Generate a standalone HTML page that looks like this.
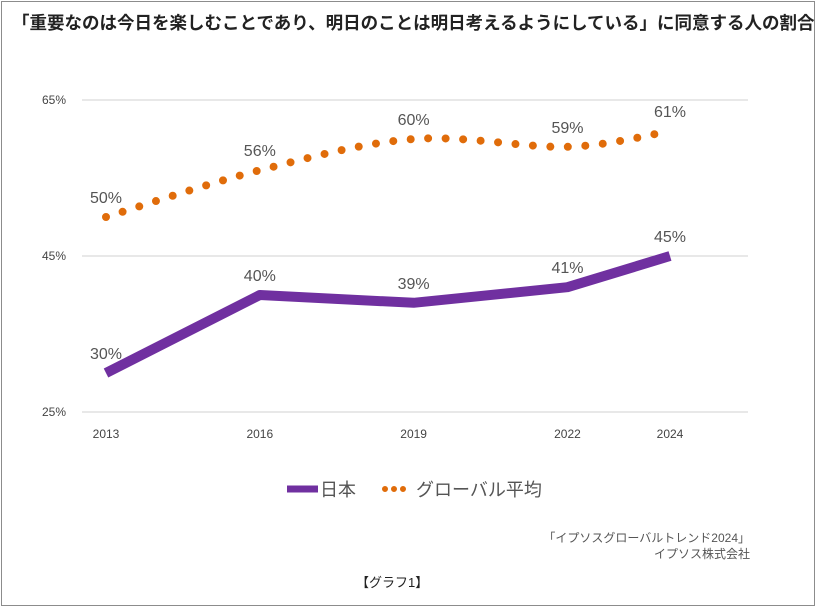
<!DOCTYPE html>
<html><head><meta charset="utf-8">
<style>
body{margin:0;background:#fff;}
#wrap{position:relative;width:816px;height:607px;overflow:hidden;font-family:"Liberation Sans","Noto Sans CJK JP",sans-serif;}
#frame{position:absolute;left:1px;top:1px;width:812px;height:603px;border:1px solid #8c8c8c;}
.t{position:absolute;white-space:nowrap;}
</style></head><body>
<div id="wrap">
<div id="frame"></div>
<div class="t" style="left:12px;top:10px;font-size:17.5px;font-weight:bold;color:#222;">「重要なのは今日を楽しむことであり、明日のことは明日考えるようにしている」に同意する人の割合</div>
<svg id="chart" width="816" height="607" style="position:absolute;left:0;top:0"></svg>
<div class="t" style="right:66px;top:529px;font-size:12px;color:#555;">「イプソスグローバルトレンド2024」</div>
<div class="t" style="right:66px;top:545px;font-size:12px;color:#555;">イプソス株式会社</div>
<div class="t" style="left:356px;top:572px;font-size:13px;color:#222;">【グラフ1】</div>
</div>
<script>
const years=[2013,2016,2019,2022,2024];
const japan=[30,40,39,41,45];
const globalAvg=[50,56,60,59,61];
const yTicks=[25,45,65];
const seriesNames=["日本","グローバル平均"];
const NS="http://www.w3.org/2000/svg";
const svg=document.getElementById('chart');
const x=y=>106+(y-2013)*(564/11);
const yv=v=>412-(v-25)*7.8;
function el(t,a){const e=document.createElementNS(NS,t);for(const k in a)e.setAttribute(k,a[k]);svg.appendChild(e);return e;}
yTicks.forEach(v=>{
 const g=el('line',{x1:82,x2:748,y1:yv(v),y2:yv(v),stroke:'#d0d0d0','stroke-width':1});
 
 
 const t=el('text',{x:66,y:yv(v)+4,'text-anchor':'end','font-size':12,fill:'#444'});
 t.textContent=v+'%';
 
 
});
years.forEach(yr=>{
 const t=el('text',{x:x(yr),y:438,'text-anchor':'middle','font-size':12,fill:'#444'});
 t.textContent=yr;
 
 
});
function smooth(pts){
 let d='M'+pts[0][0]+','+pts[0][1];
 for(let i=0;i<pts.length-1;i++){
  const p0=pts[i-1]||pts[i],p1=pts[i],p2=pts[i+1],p3=pts[i+2]||p2;
  const c1=[p1[0]+(p2[0]-p0[0])/6,p1[1]+(p2[1]-p0[1])/6];
  const c2=[p2[0]-(p3[0]-p1[0])/6,p2[1]-(p3[1]-p1[1])/6];
  d+=' C'+c1+' '+c2+' '+p2;
 }
 return d;
}
const gp=years.map((yr,i)=>[x(yr),yv(globalAvg[i])]);
const gl=el('path',{d:smooth(gp),fill:'none',stroke:'#e06c0a','stroke-width':8,'stroke-linecap':'round','stroke-dasharray':'0 17.5'});


const jp=years.map((yr,i)=>x(yr)+','+yv(japan[i])).join(' ');
const jl=el('polyline',{points:jp,fill:'none',stroke:'#7030a0','stroke-width':10,'stroke-linejoin':'round'});


function labels(arr,name){
 years.forEach((yr,i)=>{
  const t=el('text',{x:x(yr),y:yv(arr[i])-14,'text-anchor':'middle','font-size':16,fill:'#555'});
  t.textContent=arr[i]+'%';
  
  
 });
}
labels(japan,'japan');
labels(globalAvg,'global');
const l1=el('line',{x1:287,x2:318,y1:489,y2:489,stroke:'#7030a0','stroke-width':7});


const t1=el('text',{x:320,y:496,'font-size':18,fill:'#555'});t1.textContent=seriesNames[0];


const l2=el('line',{x1:385,x2:412,y1:489,y2:489,stroke:'#e06c0a','stroke-width':6,'stroke-linecap':'round','stroke-dasharray':'0 9'});


const t2=el('text',{x:416,y:496,'font-size':18,fill:'#555'});t2.textContent=seriesNames[1];


</script>
</body></html>
